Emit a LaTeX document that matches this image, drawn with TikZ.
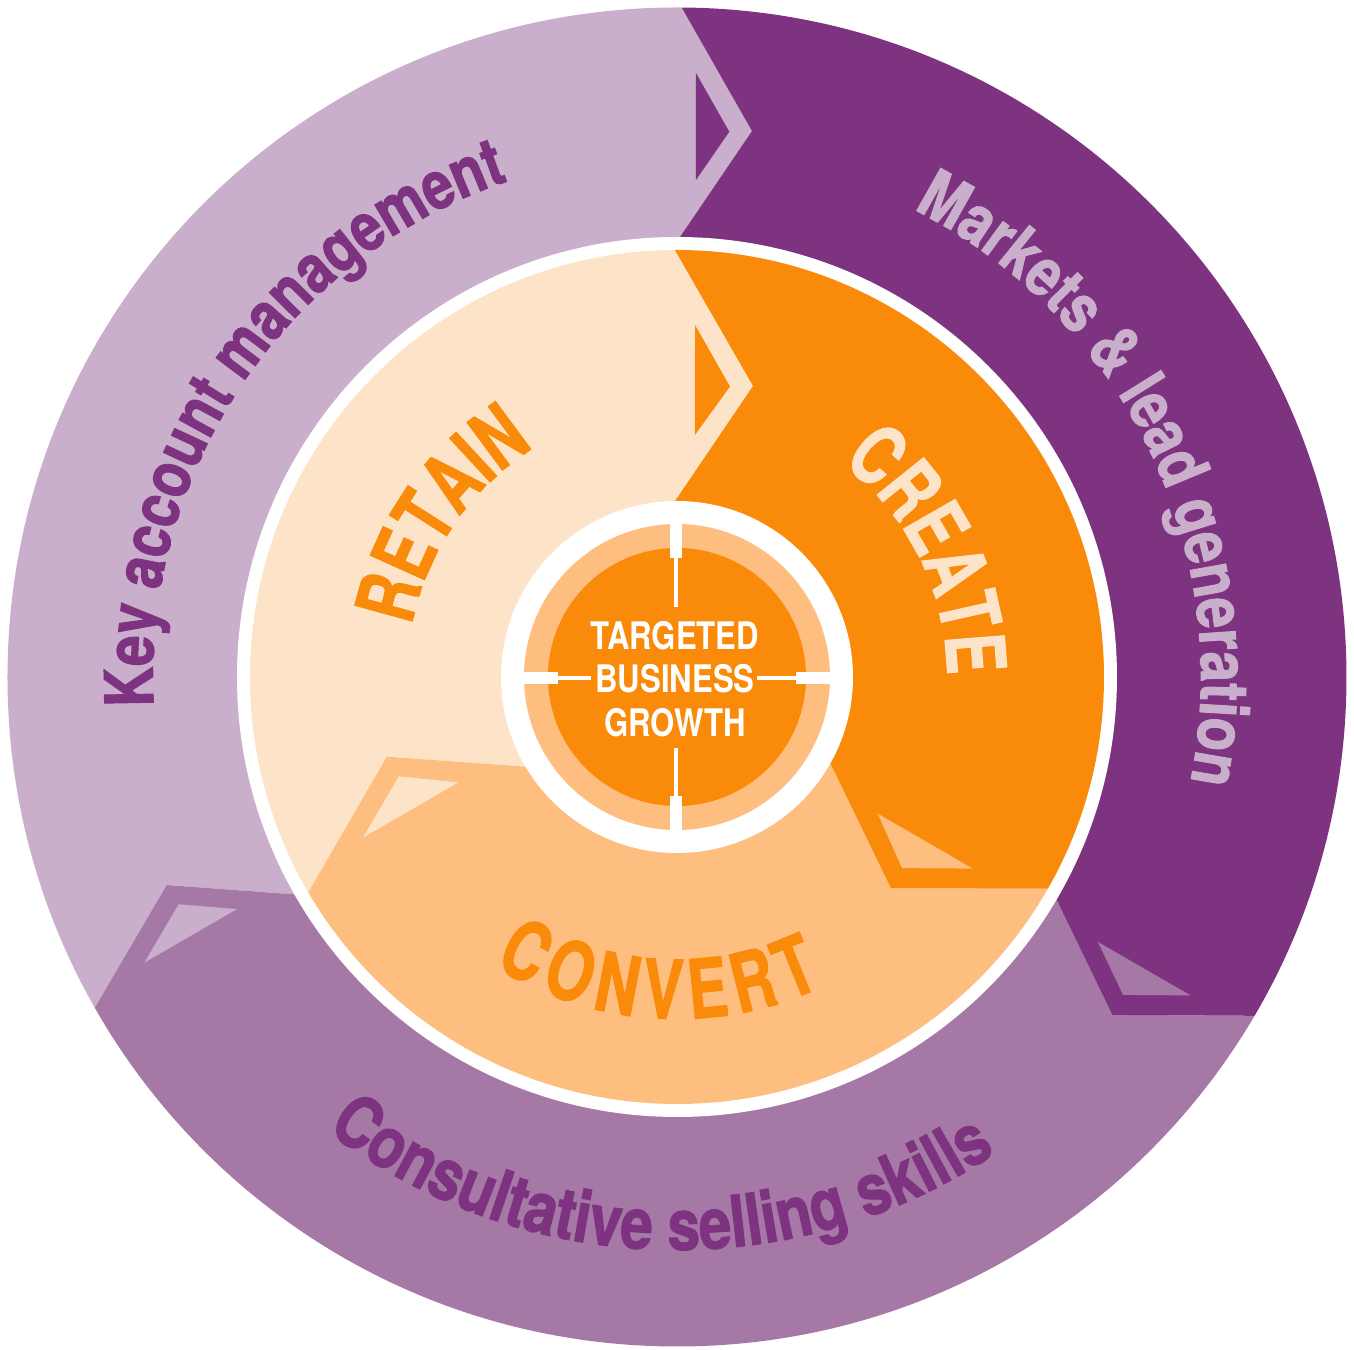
\documentclass[tikz,border=0pt]{standalone}
\usepackage{fontspec}
\usetikzlibrary{decorations.text}
\newfontfamily\fOut{TeX Gyre Heros}[FakeStretch=0.82, BoldFeatures={FakeBold=1.4}]
\newfontfamily\fIn{TeX Gyre Heros}[FakeStretch=0.73, BoldFeatures={FakeBold=1.2}]
\newfontfamily\fCore{TeX Gyre Heros}[FakeStretch=0.82]
\definecolor{lpur}{HTML}{C9AFCB}
\definecolor{dpur}{HTML}{7E3380}
\definecolor{mpur}{HTML}{A678A6}
\definecolor{peach}{HTML}{FDE4C8}
\definecolor{orng}{HTML}{FA8A0A}
\definecolor{lorng}{HTML}{FDBE80}
\newcommand{\outfont}{\fOut\bfseries\fontsize{19.06}{19.06}\selectfont}
\newcommand{\botfont}{\fOut\bfseries\fontsize{20.3}{20.3}\selectfont}
\newcommand{\infont}{\fIn\bfseries\fontsize{23.3}{23.3}\selectfont}
\tikzset{
  arctext/.style n args={3}{decorate, decoration={text along path, text align=center,
      text color=#1, text={|#2|#3}}},
  convletter/.style={text=orng, font=\infont, inner sep=0pt, anchor=base},
}
\begin{document}
\begin{tikzpicture}[x=0.1mm, y=0.1mm]
  \useasboundingbox (-677,-673) rectangle (677,677);
  \fill[white] (-677,-673) rectangle (677,677);

  % outer ring sectors
  \begin{scope}
    \clip (0,0) circle[radius=669.5];
    \foreach \k/\c/\t in {0/lpur/dpur, 120/mpur/lpur, 240/dpur/mpur} {
      \begin{scope}[rotate=\k]
        \fill[\c] (0,0) -- (94.87:388.4) -- (82.18:551.1) -- (92.35:731.1) -- (150:1000)
          -- (212.35:731.1) -- (202.18:551.1) -- (214.87:388.4) -- cycle;
        \fill[\t] (88.2:604.3) -- (84.52:547.8) -- (87.81:497.4) -- cycle;
      \end{scope}
    }
  \end{scope}
  \fill[white] (0,0) circle[radius=440];

  % inner disk sectors
  \begin{scope}
    \clip (0,0) circle[radius=427];
    \foreach \k/\c/\t in {0/peach/orng, 120/lorng/peach, 240/orng/lorng} {
      \begin{scope}[rotate=\k]
        \fill[\c] (0,0) -- (99.0:146.8) -- (75.36:300.8) -- (92.95:465.6) -- (150:800)
          -- (212.95:465.6) -- (195.36:300.8) -- (219.0:146.8) -- cycle;
        \fill[\t] (87.07:352.5) -- (79.66:295.3) -- (85.75:242.7) -- cycle;
      \end{scope}
    }
  \end{scope}

  % centre target
  \fill[white] (0,0) circle[radius=176];
  \fill[lorng] (0,0) circle[radius=153];
  \fill[orng] (0,0) circle[radius=129];
  \fill[white] (-7,119) rectangle (5,155);
  \fill[white] (-7,-119) rectangle (5,-155);
  \fill[white] (-155,-7) rectangle (-119,5);
  \fill[white] (119,-7) rectangle (155,5);
  \draw[white, line width=0.4mm] (-1,70) -- (-1,120);
  \draw[white, line width=0.4mm] (-1,-71) -- (-1,-120);
  \draw[white, line width=0.4mm] (-120,-1) -- (-86,-1);
  \draw[white, line width=0.4mm] (80,-1) -- (120,-1);
  \node[text=white, align=center, inner sep=0pt,
        font=\fCore\bfseries\fontsize{10.8}{12.4}\selectfont] (core) at (-2,-2)
        {TARGETED\\BUSINESS\\GROWTH};

  % outer labels
  \path[arctext={dpur}{\outfont}{Key account management}]
    (226:524) arc[start angle=226, end angle=66, radius=524];
  \path[arctext={lpur}{\outfont}{Markets {\&} lead generation}]
    (105.8:524) arc[start angle=105.8, end angle=-54.2, radius=524];
  \path[arctext={dpur}{\botfont}{Consultative selling skills}]
    (188.1:573) arc[start angle=188.1, end angle=348.1, radius=573];

  % inner labels
  \path[arctext={orng}{\infont}{RETAIN}]
    (225.5:270) arc[start angle=225.5, end angle=65.5, radius=270];
  \path[arctext={peach}{\infont}{CREATE}]
    (106.4:270) arc[start angle=106.4, end angle=-53.6, radius=270];
  \foreach \a/\l/\n in {241.2/C/cv1, 250.16/O/cv2, 259.11/N/cv3, 267.5/V/cv4,
                        275.62/E/cv5, 284.01/R/cv6, 292.12/T/cv7} {
    \node[convletter, rotate=\a+90] (\n) at (\a:342) {\l};
  }
\end{tikzpicture}
\end{document}
